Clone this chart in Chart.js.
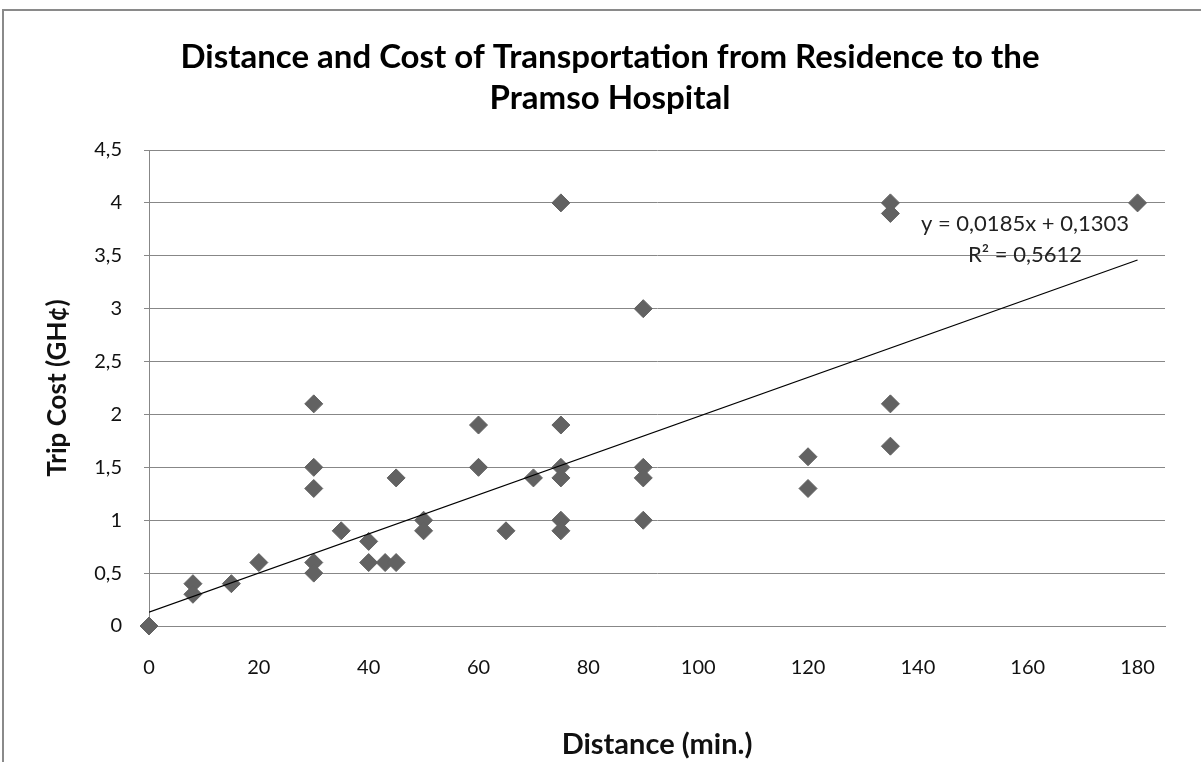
<!DOCTYPE html>
<html>
<head>
<meta charset="utf-8">
<title>Distance and Cost of Transportation</title>
<script src="https://cdn.jsdelivr.net/npm/chart.js@4/dist/chart.umd.min.js"></script>
<style>
  html, body { margin: 0; padding: 0; background: #fff; overflow: hidden; }
  canvas { display: block; }
</style>
</head>
<body>
<canvas id="chart" width="1201" height="762"></canvas>
<script>
// Survey responses: travel time from residence (minutes) and trip cost (GH¢)
const distanceMin = [0, 8, 8, 15, 20, 30, 30, 30, 30, 30, 35, 40, 40, 43, 45, 45, 50, 50,
  60, 60, 65, 70, 75, 75, 75, 75, 75, 75, 90, 90, 90, 90, 120, 120, 135, 135, 135, 135, 180];
const tripCost = [0, 0.4, 0.3, 0.4, 0.6, 2.1, 1.5, 1.3, 0.6, 0.5, 0.9, 0.8, 0.6, 0.6, 1.4, 0.6, 1.0, 0.9,
  1.9, 1.5, 0.9, 1.4, 4.0, 1.9, 1.5, 1.4, 1.0, 0.9, 3.0, 1.5, 1.4, 1.0, 1.6, 1.3, 4.0, 3.9, 2.1, 1.7, 4.0];

// Axis tick values
const xTickValues = [0, 20, 40, 60, 80, 100, 120, 140, 160, 180];
const yTickValues = [0, 0.5, 1, 1.5, 2, 2.5, 3, 3.5, 4, 4.5];

// Linear trendline (least squares) as reported
const trendSlope = 0.0185;
const trendIntercept = 0.1303;
const trendR2 = 0.5612;

const titleLines = ['Distance and Cost of Transportation from Residence to the', 'Pramso Hospital'];
const xAxisTitle = 'Distance (min.)';
const yAxisTitle = 'Trip Cost (GH\u00A2)';

const FONT = 'Lato, "Open Sans", "DejaVu Sans", sans-serif';
const GRID = '#878787';
const MARKER = '#626262';

const withComma = v => String(v).replace('.', ',');

const points = distanceMin.map((x, i) => ({ x: x, y: tripCost[i] }));
const xLo = Math.min(...distanceMin);
const xHi = Math.max(...distanceMin);
const trendPoints = [xLo, xHi].map(x => ({ x: x, y: trendSlope * x + trendIntercept }));

const equationText = [
  'y = ' + withComma(trendSlope.toFixed(4)) + 'x + ' + withComma(trendIntercept.toFixed(4)),
  'R\u00B2 = ' + withComma(trendR2.toFixed(4))
];

// Background and outer frame of the chart object
const framePlugin = {
  id: 'frame',
  beforeDraw(chart) {
    const ctx = chart.ctx;
    ctx.save();
    ctx.fillStyle = '#ffffff';
    ctx.fillRect(0, 0, chart.width, chart.height);
    ctx.strokeStyle = '#8a8a8a';
    ctx.lineWidth = 2;
    ctx.beginPath();
    ctx.moveTo(3, chart.height + 2);
    ctx.lineTo(3, 10);
    ctx.lineTo(chart.width + 2, 10);
    ctx.stroke();
    ctx.restore();
  }
};

// Two-line chart title, centred over the chart object
const titlePlugin = {
  id: 'twoLineTitle',
  afterDraw(chart) {
    const ctx = chart.ctx;
    ctx.save();
    ctx.fillStyle = '#000';
    ctx.font = 'bold 33px ' + FONT;
    ctx.textAlign = 'center';
    ctx.textBaseline = 'middle';
    titleLines.forEach((line, i) => ctx.fillText(line, 610, 57 + i * 41));
    ctx.restore();
  }
};

// Trendline equation label anchored in data space near the upper right
const equationPlugin = {
  id: 'equationLabel',
  afterDatasetsDraw(chart) {
    const { ctx, scales } = chart;
    const cx = scales.x.getPixelForValue(159.5);
    const cy = scales.y.getPixelForValue(3.8);
    ctx.save();
    ctx.fillStyle = '#222';
    ctx.font = '22px ' + FONT;
    ctx.textAlign = 'center';
    ctx.textBaseline = 'middle';
    equationText.forEach((line, i) => ctx.fillText(line, cx, cy + i * 31));
    ctx.restore();
  }
};

new Chart(document.getElementById('chart'), {
  data: {
    datasets: [
      {
        type: 'line',
        label: 'Linear trend',
        data: trendPoints,
        borderColor: '#000',
        borderWidth: 1.2,
        pointRadius: 0,
        fill: false,
        order: 0
      },
      {
        type: 'scatter',
        label: 'Trip cost',
        data: points,
        pointStyle: 'rectRot',
        pointRadius: 9,
        pointBackgroundColor: MARKER,
        pointBorderColor: MARKER,
        pointBorderWidth: 1,
        clip: false,
        order: 1
      }
    ]
  },
  options: {
    responsive: false,
    animation: false,
    devicePixelRatio: 1,
    layout: { padding: { left: 3, right: 36, top: 150, bottom: 0 } },
    plugins: {
      legend: { display: false },
      title: { display: false },
      tooltip: { enabled: false }
    },
    scales: {
      x: {
        type: 'linear',
        min: 0,
        max: 185,
        afterBuildTicks(scale) { scale.ticks = xTickValues.map(v => ({ value: v })); },
        afterFit(scale) { scale.height = 136; },
        grid: { display: false, drawTicks: false },
        border: { display: true, color: GRID, width: 1 },
        ticks: {
          padding: 30,
          color: '#111',
          font: { family: FONT, size: 20 },
          maxRotation: 0,
          callback: v => withComma(v)
        },
        title: {
          display: true,
          text: xAxisTitle,
          color: '#111',
          font: { family: FONT, size: 29, weight: 'bold' },
          padding: { top: 0, bottom: 0 }
        }
      },
      y: {
        type: 'linear',
        min: 0,
        max: 4.5,
        afterBuildTicks(scale) { scale.ticks = yTickValues.map(v => ({ value: v })); },
        afterFit(scale) { scale.width = 146; },
        grid: { color: GRID, lineWidth: 1, drawTicks: true, tickLength: 5, tickColor: GRID },
        border: { display: true, color: GRID, width: 1 },
        ticks: {
          padding: 22,
          color: '#111',
          font: { family: FONT, size: 20 },
          callback: v => withComma(v)
        },
        title: {
          display: true,
          text: yAxisTitle,
          color: '#111',
          font: { family: FONT, size: 26, weight: 'bold' },
          padding: { top: 39, bottom: 0 }
        }
      }
    }
  },
  plugins: [framePlugin, titlePlugin, equationPlugin]
});
</script>
</body>
</html>
